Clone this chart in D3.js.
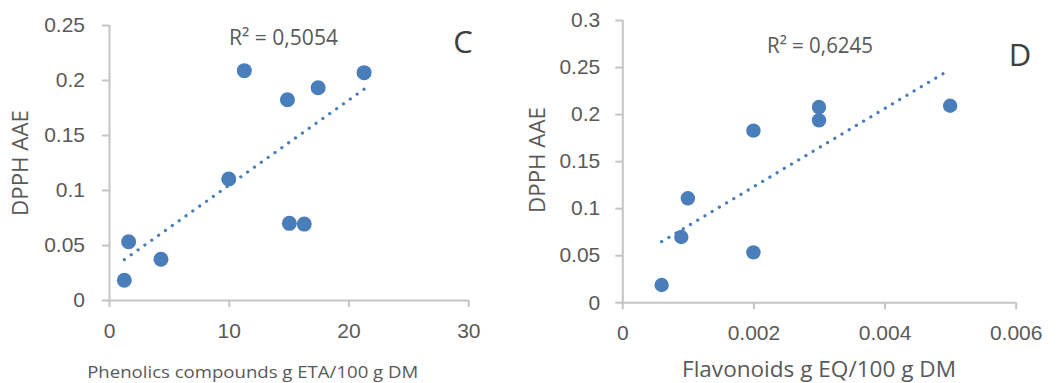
<!DOCTYPE html>
<html>
<head>
<meta charset="utf-8">
<script src="https://cdn.jsdelivr.net/npm/d3@7"></script>
<style>
  body { margin: 0; background: #fff; }
  svg { display: block; font-family: "Open Sans", sans-serif; }
  .axis path, .axis line { stroke: #c4c4c4; stroke-width: 2; }
  .axis text { fill: #595959; font-size: 21px; }
</style>
</head>
<body>
<svg id="chart" width="1057" height="383"></svg>
<script>
// panel C - phenolics vs DPPH
const phenolics = [1.28, 1.64, 4.34, 10.0, 11.3, 14.9, 15.06, 16.3, 17.46, 21.3];
const dpphC     = [0.018, 0.053, 0.037, 0.110, 0.2085, 0.182, 0.0697, 0.069, 0.193, 0.2067];
const xTicksC   = [0, 10, 20, 30];
const yTicksC   = [0, 0.05, 0.1, 0.15, 0.2, 0.25];

// panel D - flavonoids vs DPPH
const flavonoids = [0.0006, 0.0009, 0.001, 0.002, 0.002, 0.003, 0.003, 0.005];
const dpphD      = [0.0184, 0.0694, 0.1105, 0.1824, 0.0531, 0.2075, 0.1934, 0.2089];
const xTicksD    = [0, 0.002, 0.004, 0.006];
const yTicksD    = [0, 0.05, 0.1, 0.15, 0.2, 0.25, 0.3];

const svg = d3.select('#chart');
const blue = '#4a7ebb';

function fit(xs, ys) {
  const mx = d3.mean(xs), my = d3.mean(ys);
  const sxy = d3.sum(xs, (x, i) => (x - mx) * (ys[i] - my));
  const sxx = d3.sum(xs, x => (x - mx) * (x - mx));
  const b = sxy / sxx;
  return {b: b, a: my - b * mx};
}

function drawPanel(p) {
  const x = d3.scaleLinear().domain(d3.extent(p.xTicks)).range(p.xRange);
  const y = d3.scaleLinear().domain(d3.extent(p.yTicks)).range(p.yRange);
  const g = svg.append('g');

  g.append('g')
   .attr('class', 'axis')
   .attr('transform', 'translate(' + p.xRange[0] + ',0)')
   .call(d3.axisLeft(y).tickValues(p.yTicks).tickFormat(d => String(d))
     .tickSize(7).tickSizeOuter(0).tickPadding(p.yPad))
   .select('.domain').attr('d', 'M0.5,' + (p.yRange[0] + 7) + 'V' + p.yRange[1]);

  g.append('g')
   .attr('class', 'axis')
   .attr('transform', 'translate(0,' + p.yRange[0] + ')')
   .call(d3.axisBottom(x).tickValues(p.xTicks).tickFormat(d => String(d))
     .tickSize(7).tickSizeOuter(0).tickPadding(16))
   .select('.domain').attr('d', 'M' + (p.xRange[0] - 7) + ',0.5H' + p.xRange[1]);

  g.selectAll('.axis .tick').filter(d => d === 0).select('line').remove();

  // linear trendline, dotted
  const t = fit(p.xs, p.ys);
  const ex = d3.extent(p.xs);
  g.append('path')
   .datum(ex.map(v => [v, t.a + t.b * v]))
   .attr('d', d3.line().x(d => x(d[0])).y(d => y(d[1])))
   .attr('fill', 'none')
   .attr('stroke', blue)
   .attr('stroke-width', 3.2)
   .attr('stroke-linecap', 'round')
   .attr('stroke-dasharray', '0.1 8.3');

  g.selectAll('circle.pt')
   .data(p.xs.map((v, i) => [v, p.ys[i]]))
   .join('circle')
   .attr('class', 'pt')
   .attr('cx', d => x(d[0]))
   .attr('cy', d => y(d[1]))
   .attr('r', p.r)
   .attr('fill', blue);

  g.append('text')
   .attr('x', p.r2Pos[0]).attr('y', p.r2Pos[1])
   .attr('font-size', 21).attr('fill', '#595959')
   .attr('textLength', p.r2Len).attr('lengthAdjust', 'spacingAndGlyphs')
   .text(p.r2);

  g.append('text')
   .attr('x', p.letterPos[0]).attr('y', p.letterPos[1])
   .attr('text-anchor', 'middle')
   .attr('font-size', 31).attr('fill', '#404040')
   .text(p.letter);

  g.append('text')
   .attr('transform', 'translate(' + p.yTitlePos[0] + ',' + p.yTitlePos[1] + ') rotate(-90)')
   .attr('text-anchor', 'middle')
   .attr('font-size', 21).attr('fill', '#595959')
   .attr('textLength', 106).attr('lengthAdjust', 'spacingAndGlyphs')
   .text('DPPH AAE');

  g.append('text')
   .attr('x', p.xTitlePos[0]).attr('y', p.xTitlePos[1])
   .attr('text-anchor', 'middle')
   .attr('font-size', p.xTitleSize).attr('fill', '#595959')
   .attr('textLength', p.xTitleLen).attr('lengthAdjust', 'spacingAndGlyphs')
   .text(p.xTitle);
}

drawPanel({
  xs: phenolics, ys: dpphC, xTicks: xTicksC, yTicks: yTicksC,
  xRange: [109, 468.3], yRange: [300, 25], yPad: 17, r: 7.5,
  r2: 'R² = 0,5054', r2Pos: [229, 45], r2Len: 109,
  letter: 'C', letterPos: [463, 53],
  yTitlePos: [28, 163],
  xTitle: 'Phenolics compounds g ETA/100 g DM', xTitlePos: [252.7, 378], xTitleSize: 16, xTitleLen: 331
});

drawPanel({
  xs: flavonoids, ys: dpphD, xTicks: xTicksD, yTicks: yTicksD,
  xRange: [622.3, 1015.7], yRange: [302.3, 20], yPad: 15, r: 7.2,
  r2: 'R² = 0,6245', r2Pos: [767, 53], r2Len: 106,
  letter: 'D', letterPos: [1020, 66],
  yTitlePos: [545, 160],
  xTitle: 'Flavonoids g EQ/100 g DM', xTitlePos: [819, 377], xTitleSize: 21, xTitleLen: 274
});
</script>
</body>
</html>
